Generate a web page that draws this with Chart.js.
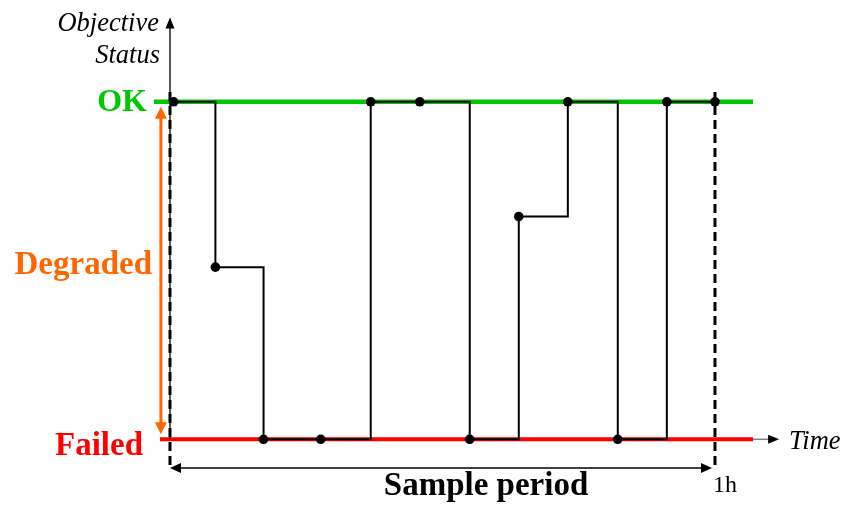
<!DOCTYPE html>
<html>
<head>
<meta charset="utf-8">
<script src="https://cdn.jsdelivr.net/npm/chart.js@4"></script>
<style>
  html, body { margin: 0; padding: 0; background: #fff; }
  #wrap { position: relative; width: 844px; height: 505px; }
</style>
</head>
<body>
<div id="wrap"><canvas id="c"></canvas></div>
<script>
// ---- data (time in minutes within the 1h sample period; status 1 = OK, 0 = Failed) ----
const sampleTimes  = [0.4, 5.0, 10.3, 16.6, 22.1, 27.5, 33.0, 38.4, 43.8, 49.3, 54.7, 60.0];
const statusValues = [1, 0.51, 0, 0, 1, 1, 0, 0.66, 1, 0, 1, 1];

const statusNames  = ['OK', 'Degraded', 'Failed'];
const statusLevels = [1, 0.52, 0];
const okLineTimes     = [-1.76, 64.2];
const failedLineTimes = [-1.1, 64.2];
const periodBounds    = [0, 60];
const periodLabel     = 'Sample period';
const periodEndLabel  = '1h';
const yAxisTitle      = ['Objective', 'Status'];
const xAxisTitle      = 'Time';

const SERIF = '"Liberation Serif", "DejaVu Serif", serif';

function pts(xs, ys) { return xs.map((x, i) => ({ x: x, y: ys[i] })); }

const overlay = {
  id: 'overlay',
  afterDraw(chart) {
    const ctx = chart.ctx, xs = chart.scales.x, ys = chart.scales.y;
    const X = v => xs.getPixelForValue(v), Y = v => ys.getPixelForValue(v);
    ctx.save();

    function tri(x1, y1, x2, y2, x3, y3, color) {
      ctx.fillStyle = color; ctx.beginPath();
      ctx.moveTo(x1, y1); ctx.lineTo(x2, y2); ctx.lineTo(x3, y3); ctx.closePath(); ctx.fill();
    }

    // vertical status axis with arrow
    const ax = X(0);
    ctx.strokeStyle = '#000'; ctx.lineWidth = 1.3;
    ctx.beginPath(); ctx.moveTo(ax, Y(0)); ctx.lineTo(ax, Y(1.245)); ctx.stroke();
    tri(ax, Y(1.25), ax - 4.5, Y(1.25) + 11, ax + 4.5, Y(1.25) + 11, '#000');

    // time axis arrow
    const tEnd = okLineTimes[1];
    ctx.strokeStyle = '#808080'; ctx.lineWidth = 1.5;
    ctx.beginPath(); ctx.moveTo(X(tEnd), Y(0)); ctx.lineTo(X(tEnd) + 16, Y(0)); ctx.stroke();
    tri(X(tEnd) + 26, Y(0), X(tEnd) + 15, Y(0) - 4.5, X(tEnd) + 15, Y(0) + 4.5, '#000');

    // orange degraded range arrow
    const ox = X(-1.0), oTop = Y(0.985), oBot = Y(0.015);
    ctx.strokeStyle = '#FF6600'; ctx.lineWidth = 3;
    ctx.beginPath(); ctx.moveTo(ox, oTop + 8); ctx.lineTo(ox, oBot - 8); ctx.stroke();
    tri(ox, oTop, ox - 6, oTop + 12, ox + 6, oTop + 12, '#FF6600');
    tri(ox, oBot, ox - 6, oBot - 12, ox + 6, oBot - 12, '#FF6600');

    // sample period double arrow
    const sy = Y(-0.085), sx0 = X(periodBounds[0]), sx1 = X(periodBounds[1]) - 3;
    ctx.strokeStyle = '#000'; ctx.lineWidth = 1.3;
    ctx.beginPath(); ctx.moveTo(sx0 + 6, sy); ctx.lineTo(sx1 - 6, sy); ctx.stroke();
    tri(sx0, sy, sx0 + 11, sy - 5, sx0 + 11, sy + 5, '#000');
    tri(sx1, sy, sx1 - 11, sy - 5, sx1 - 11, sy + 5, '#000');

    // status labels
    ctx.textBaseline = 'alphabetic';
    ctx.textAlign = 'right';
    const colors = ['#00C800', '#FF6600', '#FF0000'];
    const sizes = [32, 33, 33];
    const baseOff = [9, 10, 16];
    const rightX = [147, 152, 143];
    statusNames.forEach((n, i) => {
      ctx.font = 'bold ' + sizes[i] + 'px ' + SERIF;
      ctx.fillStyle = colors[i];
      ctx.fillText(n, rightX[i], Y(statusLevels[i]) + baseOff[i]);
    });

    // y axis title
    ctx.fillStyle = '#000';
    ctx.font = 'italic 26.5px ' + SERIF;
    ctx.fillText(yAxisTitle[0], 159, 31);
    ctx.fillText(yAxisTitle[1], 160, 63);

    // x axis title
    ctx.textAlign = 'left';
    ctx.font = 'italic 26.5px ' + SERIF;
    ctx.fillText(xAxisTitle, 789, Y(0) + 10);

    // 1h
    ctx.font = '24px ' + SERIF;
    ctx.fillText(periodEndLabel, X(periodBounds[1]) - 2, 492);

    // sample period
    ctx.textAlign = 'center';
    ctx.font = 'bold 33px ' + SERIF;
    ctx.fillText(periodLabel, X(34.8), 495);

    ctx.restore();
  }
};

new Chart(document.getElementById('c'), {
  type: 'line',
  data: {
    datasets: [
      {
        label: 'Objective status',
        data: pts(sampleTimes, statusValues),
        stepped: true,
        borderColor: '#000',
        borderWidth: 2,
        pointRadius: 4.8,
        pointBackgroundColor: '#000',
        pointBorderWidth: 0,
        order: 0
      },
      {
        label: 'Period start',
        data: pts([periodBounds[0], periodBounds[0]], [-0.076, 1.035]),
        borderColor: '#000', borderWidth: 3, borderDash: [9, 5],
        pointRadius: 0, order: 1
      },
      {
        label: 'Period end',
        data: pts([periodBounds[1], periodBounds[1]], [-0.076, 1.035]),
        borderColor: '#000', borderWidth: 3, borderDash: [9, 5],
        pointRadius: 0, order: 1
      },
      {
        label: 'OK',
        data: pts(okLineTimes, [1, 1]),
        borderColor: '#00C800', borderWidth: 4.5,
        pointRadius: 0, order: 2
      },
      {
        label: 'Failed',
        data: pts(failedLineTimes, [0, 0]),
        borderColor: '#FF0000', borderWidth: 4,
        pointRadius: 0, order: 2
      }
    ]
  },
  options: {
    responsive: true,
    maintainAspectRatio: false,
    animation: false,
    layout: { padding: { left: 150, right: 54, top: 10, bottom: 25 } },
    plugins: { legend: { display: false }, tooltip: { enabled: false } },
    scales: {
      x: { type: 'linear', min: -2.2, max: 68.26, display: false },
      y: { type: 'linear', min: -0.1206, max: 1.272, display: false }
    }
  },
  plugins: [overlay]
});
</script>
</body>
</html>
